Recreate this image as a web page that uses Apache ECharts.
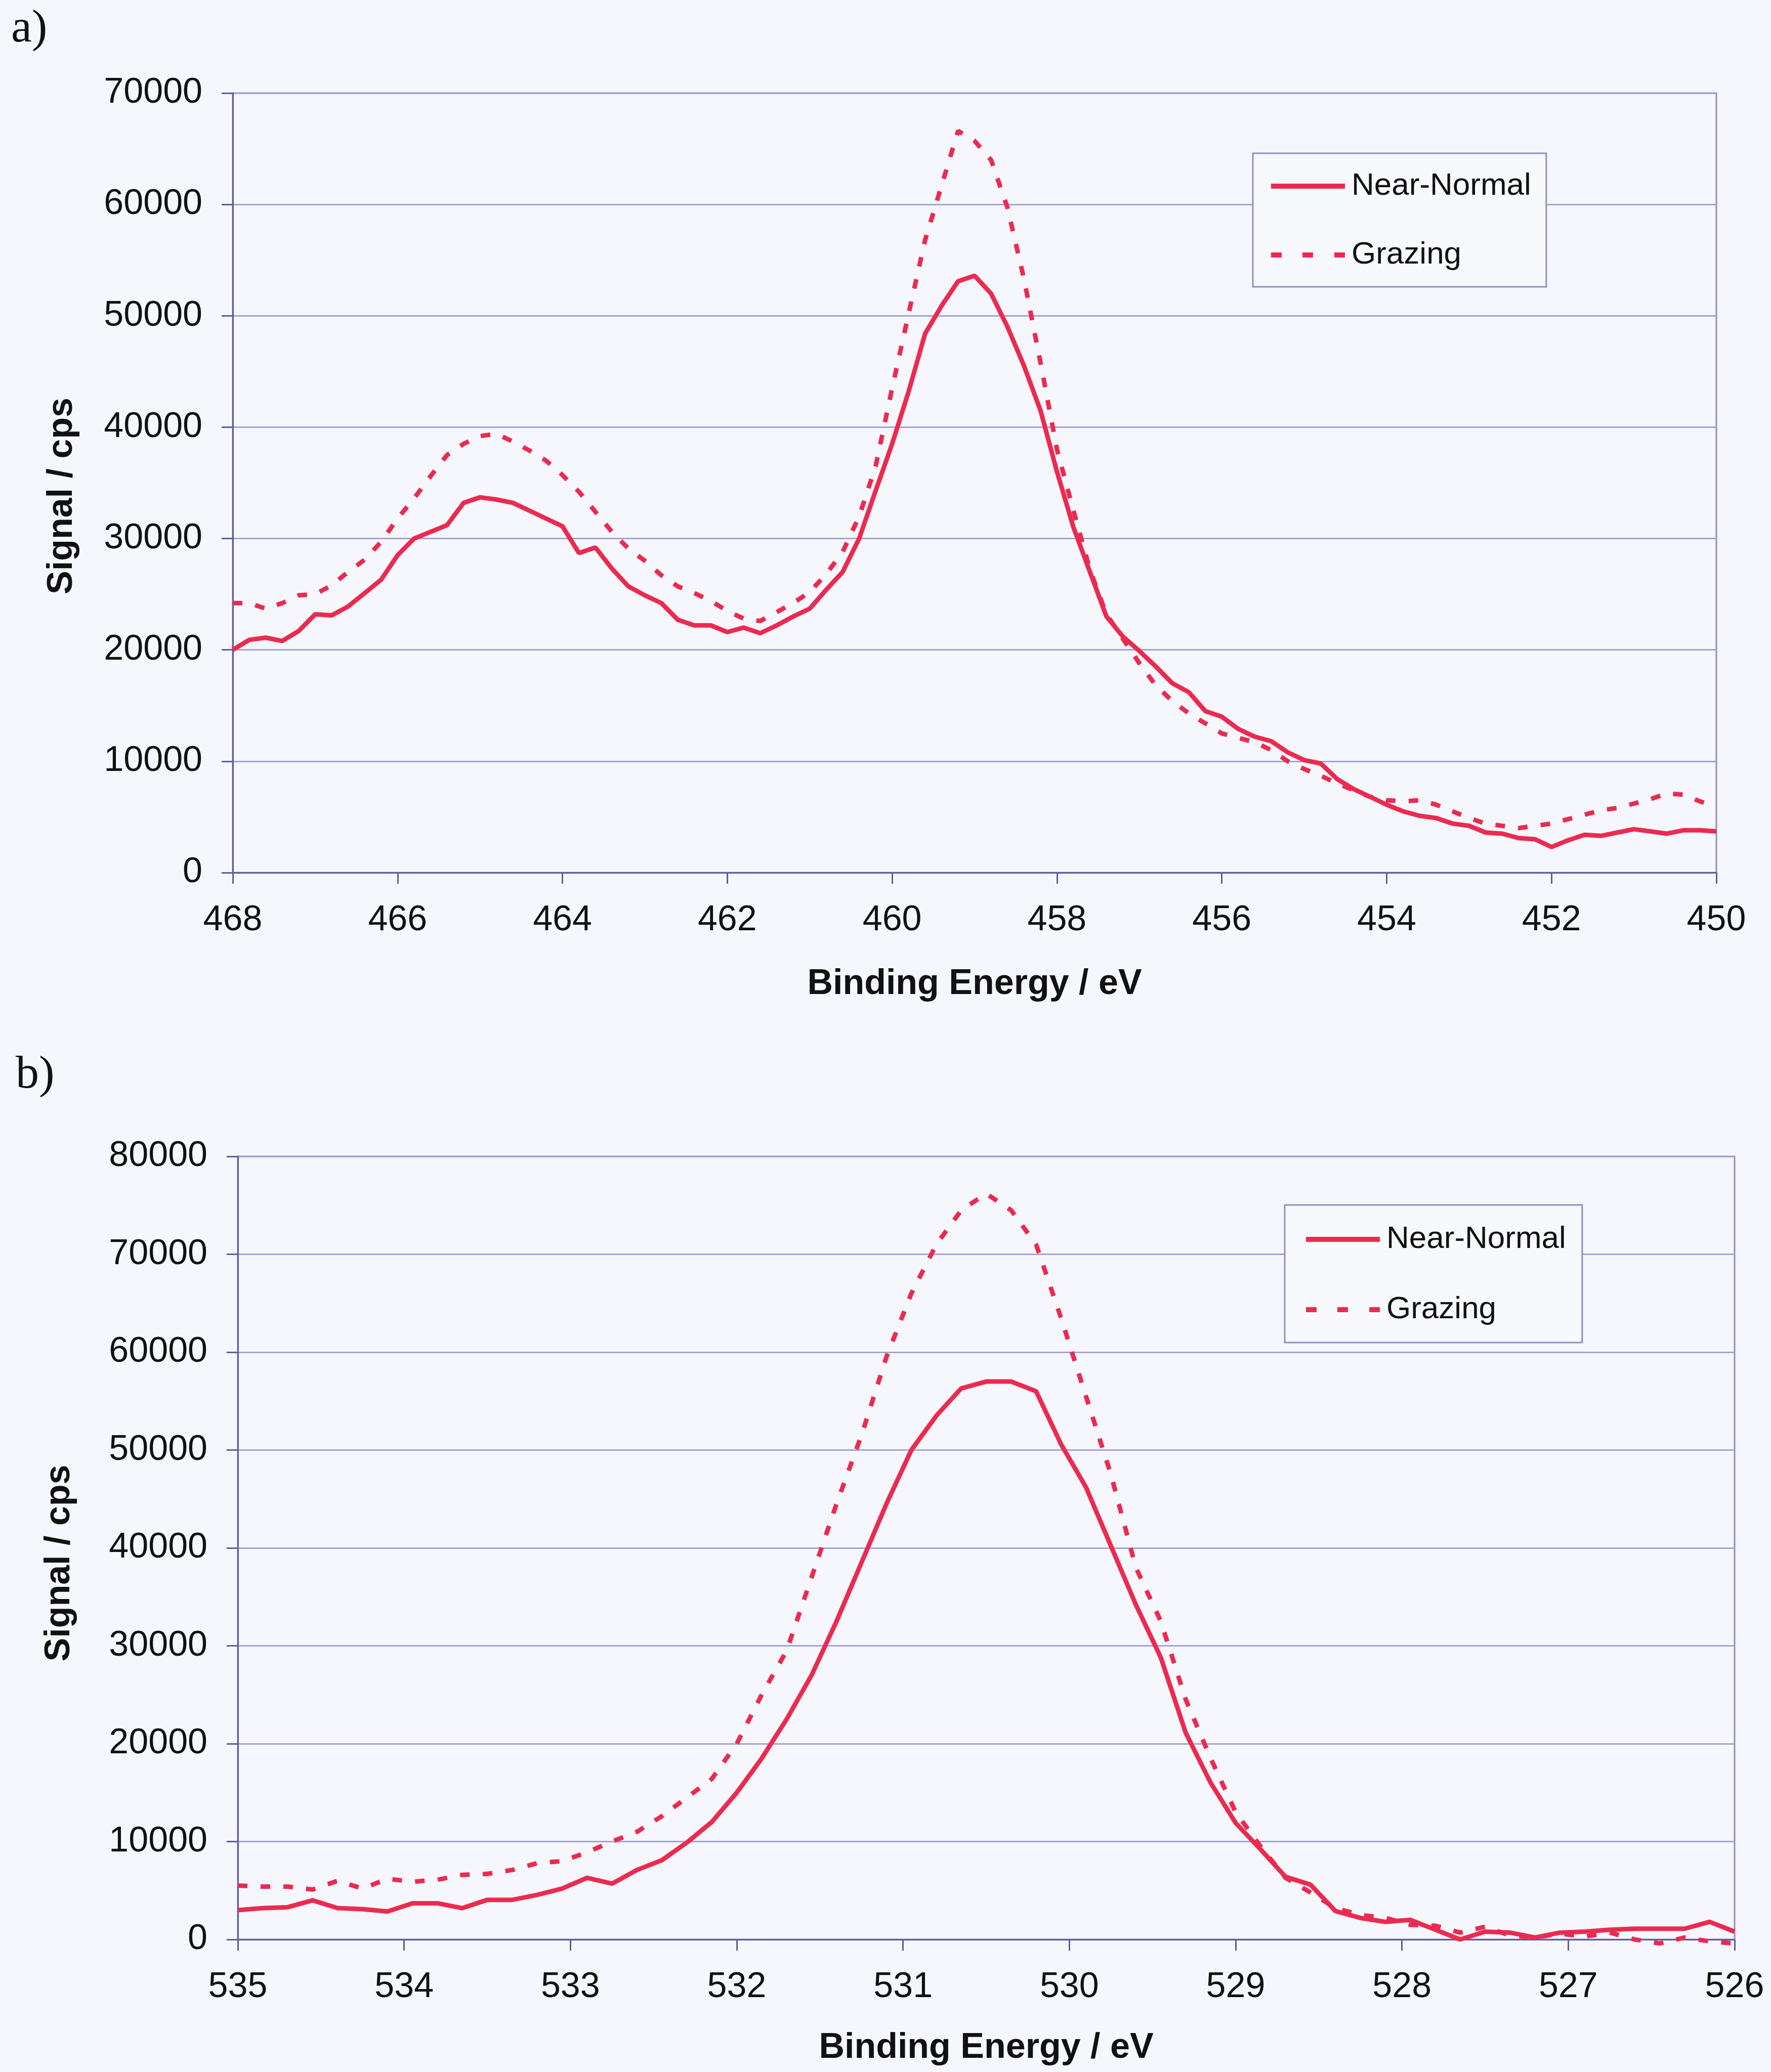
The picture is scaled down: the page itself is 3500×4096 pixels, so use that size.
<!DOCTYPE html>
<html>
<head>
<meta charset="utf-8">
<script src="https://cdn.jsdelivr.net/npm/echarts@6/dist/echarts.min.js"></script>
<style>
  html, body { margin: 0; padding: 0; background: #f5f7fc; }
  #chart { width: 3500px; height: 4096px; }
</style>
</head>
<body>
<div id="chart"></div>
<script>
// ---- Panel a) : Ti 2p region, 0.2 eV steps ----
const energyA = [
  468.0, 467.8, 467.6, 467.4, 467.2, 467.0, 466.8, 466.6, 466.4, 466.2,
  466.0, 465.8, 465.6, 465.4, 465.2, 465.0, 464.8, 464.6, 464.4, 464.2,
  464.0, 463.8, 463.6, 463.4, 463.2, 463.0, 462.8, 462.6, 462.4, 462.2,
  462.0, 461.8, 461.6, 461.4, 461.2, 461.0, 460.8, 460.6, 460.4, 460.2,
  460.0, 459.8, 459.6, 459.4, 459.2, 459.0, 458.8, 458.6, 458.4, 458.2,
  458.0, 457.8, 457.6, 457.4, 457.2, 457.0, 456.8, 456.6, 456.4, 456.2,
  456.0, 455.8, 455.6, 455.4, 455.2, 455.0, 454.8, 454.6, 454.4, 454.2,
  454.0, 453.8, 453.6, 453.4, 453.2, 453.0, 452.8, 452.6, 452.4, 452.2,
  452.0, 451.8, 451.6, 451.4, 451.2, 451.0, 450.8, 450.6, 450.4, 450.2,
  450.0
];
const nearNormalA = [
  20000, 20900, 21100, 20800, 21700, 23200, 23100, 23900, 25100, 26300,
  28500, 30000, 30600, 31200, 33200, 33700, 33500, 33200, 32500, 31800,
  31100, 28700, 29200, 27300, 25700, 24900, 24200, 22700, 22200, 22200,
  21600, 22000, 21500, 22200, 23000, 23700, 25400, 27000, 30000, 34300,
  38500, 43200, 48400, 50900, 53100, 53600, 52000, 49000, 45500, 41500,
  36000, 31000, 27000, 23000, 21200, 19900, 18500, 17000, 16200, 14500,
  14000, 12900, 12200, 11800, 10800, 10100, 9800, 8400, 7500, 6800,
  6100, 5500, 5100, 4900, 4400, 4200, 3600, 3500, 3100, 3000,
  2300, 2900, 3400, 3300, 3600, 3900, 3700, 3500, 3800, 3800,
  3700
];
const grazingA = [
  24200, 24200, 23700, 24200, 24900, 25000, 25800, 27000, 28100, 29700,
  31800, 33600, 35600, 37500, 38500, 39200, 39400, 38700, 37900, 37000,
  35700, 34200, 32400, 30600, 29100, 28000, 26700, 25700, 25100, 24400,
  23500, 22800, 22600, 23400, 24200, 25200, 26800, 28800, 32000, 36500,
  43500, 50200, 56800, 61700, 66600, 65700, 64000, 59700, 53300, 45800,
  38000, 32500, 27200, 23200, 21000, 18800, 16800, 15400, 14300, 13400,
  12500, 12100, 11700, 11000, 10000, 9300, 8700, 8000, 7400, 6800,
  6500, 6400, 6500, 6100, 5500, 4900, 4400, 4200, 4000, 4200,
  4400, 4800, 5200, 5600, 5800, 6200, 6600, 7100, 7000, 6400,
  5900
];

// ---- Panel b) : O 1s region, 0.15 eV steps ----
const energyB = [
  535.00, 534.85, 534.70, 534.55, 534.40, 534.25, 534.10, 533.95, 533.80, 533.65,
  533.50, 533.35, 533.20, 533.05, 532.90, 532.75, 532.60, 532.45, 532.30, 532.15,
  532.00, 531.85, 531.70, 531.55, 531.40, 531.25, 531.10, 530.95, 530.80, 530.65,
  530.50, 530.35, 530.20, 530.05, 529.90, 529.75, 529.60, 529.45, 529.30, 529.15,
  529.00, 528.85, 528.70, 528.55, 528.40, 528.25, 528.10, 527.95, 527.80, 527.65,
  527.50, 527.35, 527.20, 527.05, 526.90, 526.75, 526.60, 526.45, 526.30, 526.15,
  526.00
];
const nearNormalB = [
  3000, 3200, 3300, 4000, 3200, 3100, 2850, 3700, 3700, 3200,
  4050, 4050, 4550, 5200, 6300, 5700, 7100, 8100, 9900, 12000,
  15000, 18500, 22500, 27000, 32500, 38500, 44500, 50000, 53500, 56300,
  57000, 57000, 56000, 50600, 46200, 40200, 34200, 28800, 21100, 16000,
  11900, 9200, 6400, 5600, 2900, 2200, 1800, 2000, 1000, 0,
  800, 700, 200, 700, 800, 1000, 1100, 1100, 1100, 1800,
  800
];
const grazingB = [
  5500, 5400, 5400, 5100, 6000, 5200, 6200, 5900, 6100, 6600,
  6700, 7100, 7800, 8000, 8900, 10000, 11000, 12600, 14500, 16400,
  20000, 25000, 29500, 37000, 44500, 51500, 59500, 66000, 71000, 74500,
  76200, 74500, 71000, 63500, 55500, 47500, 38000, 32500, 24500, 18500,
  13000, 9500, 6300, 4800, 3200, 2500, 2200, 1500, 1400, 700,
  1300, 400, 200, 600, 300, 700, 0, -400, 200, -200,
  -400
];

const seriesNames = ['Near-Normal', 'Grazing'];
const panelLabels = ['a)', 'b)'];
const xTitle = 'Binding Energy / eV';
const yTitle = 'Signal / cps';

const LINE_RED = '#ec2a50';
const AXIS_COL = '#5e5c9e';
const GRID_COL = '#a4a4d6';
const FONT = '"Liberation Sans", Arial, sans-serif';

// legend swatches: a full bar for the solid trace, three short bars for the dashed one
const SOLID_ICON = 'path://M0,0H146V10H0Z';
const DASH_ICON = 'path://M0,0H21V10H0Z M62,0H83V10H62Z M125,0H146V10H125Z';

const pairs = (xs, ys) => xs.map((x, i) => [x, ys[i]]);

function xAxisFor(gridIndex, min, max, interval, nameGap) {
  return {
    type: 'value', gridIndex, inverse: true, min, max, interval,
    name: xTitle, nameLocation: 'middle', nameGap,
    nameTextStyle: { fontFamily: FONT, fontSize: 70, fontWeight: 'bold', color: '#111' },
    axisLine: { show: true, lineStyle: { color: AXIS_COL, width: 3 } },
    axisTick: { show: true, inside: false, length: 22, lineStyle: { color: AXIS_COL, width: 3 } },
    axisLabel: { margin: 60, fontFamily: FONT, fontSize: 70, color: '#111', formatter: v => String(v) },
    splitLine: { show: false }
  };
}
function yAxisFor(gridIndex, max, nameGap, shift) {
  return {
    type: 'value', gridIndex, min: 0, max, interval: 10000,
    name: yTitle, nameLocation: 'middle', nameGap,
    nameTextStyle: { fontFamily: FONT, fontSize: 70, fontWeight: 'bold', color: '#111', padding: [0, shift, 0, 0] },
    axisLine: { show: true, lineStyle: { color: AXIS_COL, width: 3 } },
    axisTick: { show: true, inside: false, length: 22, lineStyle: { color: AXIS_COL, width: 3 } },
    axisLabel: { margin: 60, fontFamily: FONT, fontSize: 70, color: '#111', formatter: v => String(v) },
    splitLine: { show: true, lineStyle: { color: GRID_COL, width: 3 } }
  };
}
function lineSeries(name, idx, data, dashed) {
  return {
    name, type: 'line', xAxisIndex: idx, yAxisIndex: idx, data,
    symbol: 'none', clip: false, smooth: false, z: dashed ? 3 : 4,
    lineStyle: { color: LINE_RED, width: 9, type: dashed ? [19, 26] : 'solid', cap: 'butt' },
    itemStyle: { color: LINE_RED }
  };
}
function legendFor(left, top, gap, padding) {
  return {
    show: true, orient: 'vertical', left, top, itemGap: gap, padding,
    itemWidth: 146, itemHeight: 10,
    backgroundColor: '#f8f9fd', borderColor: '#8f8fc4', borderWidth: 3,
    textStyle: { fontFamily: FONT, fontSize: 62, color: '#111', lineHeight: 70, padding: [0, 0, 0, 8] },
    itemStyle: { color: LINE_RED },
    data: [
      { name: seriesNames[0], icon: SOLID_ICON },
      { name: seriesNames[1], icon: DASH_ICON }
    ],
    selectedMode: false
  };
}

const chart = echarts.init(document.getElementById('chart'), null, { renderer: 'canvas' });
chart.setOption({
  backgroundColor: '#f5f7fc',
  animation: false,
  grid: [
    { left: 460, top: 184, width: 2932, height: 1541, show: true, borderColor: '#8e8ec6', borderWidth: 3, backgroundColor: 'transparent' },
    { left: 470, top: 2286, width: 2958, height: 1548, show: true, borderColor: '#8e8ec6', borderWidth: 3, backgroundColor: 'transparent' }
  ],
  xAxis: [
    xAxisFor(0, 450, 468, 2, 186),
    xAxisFor(1, 526, 535, 1, 180)
  ],
  yAxis: [
    yAxisFor(0, 70000, 302, 52),
    yAxisFor(1, 80000, 317, 60)
  ],
  legend: [
    legendFor(2476, 303, 66, [30, 30, 28, 36]),
    legendFor(2539, 2382, 69, [33, 32, 30, 42])
  ],
  graphic: [
    { type: 'text', left: 22, top: 12, style: { text: panelLabels[0], font: '92px "Liberation Serif", "Times New Roman", serif', fill: '#111' } },
    { type: 'text', left: 31, top: 2080, style: { text: panelLabels[1], font: '92px "Liberation Serif", "Times New Roman", serif', fill: '#111' } }
  ],
  series: [
    lineSeries(seriesNames[0], 0, pairs(energyA, nearNormalA), false),
    lineSeries(seriesNames[1], 0, pairs(energyA, grazingA), true),
    lineSeries(seriesNames[0], 1, pairs(energyB, nearNormalB), false),
    lineSeries(seriesNames[1], 1, pairs(energyB, grazingB), true)
  ]
});
</script>
</body>
</html>
